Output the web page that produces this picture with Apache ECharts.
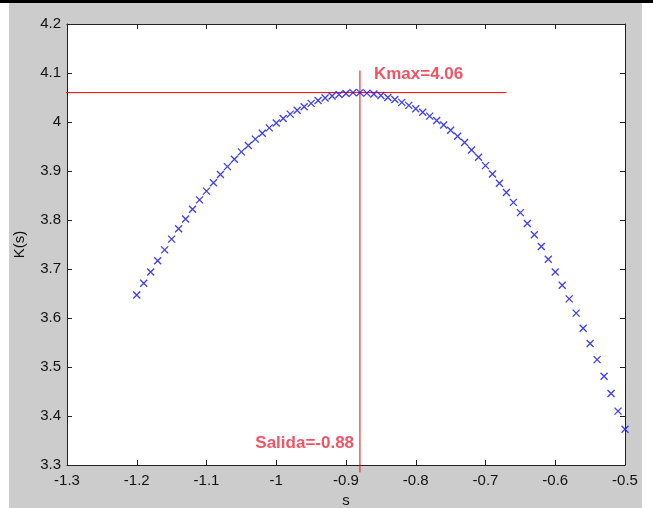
<!DOCTYPE html>
<html>
<head>
<meta charset="utf-8">
<script src="https://cdn.jsdelivr.net/npm/echarts@6/dist/echarts.min.js"></script>
<style>
  html, body { margin: 0; padding: 0; background: #fff; }
  #chart { width: 653px; height: 508px; }
</style>
</head>
<body>
<div id="chart"></div>
<script>
// s values (step 0.01) and K(s)
const sValues = [
  -1.20, -1.19, -1.18, -1.17, -1.16, -1.15, -1.14, -1.13, -1.12, -1.11,
  -1.10, -1.09, -1.08, -1.07, -1.06, -1.05, -1.04, -1.03, -1.02, -1.01,
  -1.00, -0.99, -0.98, -0.97, -0.96, -0.95, -0.94, -0.93, -0.92, -0.91,
  -0.90, -0.89, -0.88, -0.87, -0.86, -0.85, -0.84, -0.83, -0.82, -0.81,
  -0.80, -0.79, -0.78, -0.77, -0.76, -0.75, -0.74, -0.73, -0.72, -0.71,
  -0.70, -0.69, -0.68, -0.67, -0.66, -0.65, -0.64, -0.63, -0.62, -0.61,
  -0.60, -0.59, -0.58, -0.57, -0.56, -0.55, -0.54, -0.53, -0.52, -0.51,
  -0.50
]
const kValues = [
  3.647, 3.671, 3.694, 3.717, 3.739, 3.761, 3.782, 3.802, 3.822, 3.841,
  3.859, 3.876, 3.893, 3.909, 3.924, 3.939, 3.952, 3.965, 3.977, 3.988,
  3.998, 4.007, 4.016, 4.024, 4.031, 4.038, 4.044, 4.049, 4.053, 4.056,
  4.058, 4.060, 4.060, 4.059, 4.057, 4.054, 4.050, 4.046, 4.040, 4.034,
  4.027, 4.020, 4.012, 4.003, 3.994, 3.983, 3.971, 3.958, 3.943, 3.928,
  3.911, 3.894, 3.875, 3.856, 3.836, 3.815, 3.793, 3.770, 3.746, 3.720,
  3.694, 3.667, 3.639, 3.610, 3.579, 3.548, 3.515, 3.481, 3.446, 3.410,
  3.373
]
const kmax = 4.06
const salida = -0.88
// extents of the two red guide lines
const hLineS = [-1.31, -0.67]
const vLineK = [3.285, 4.105]
// text anchors (left edge, middle)
const kmaxTextAt = [-0.86, 4.098]
const salidaTextAt = [-1.03, 3.344]

const xTicks = { min: -1.3, max: -0.5, interval: 0.1 }
const yTicks = { min: 3.3, max: 4.2, interval: 0.1 }

const chart = echarts.init(document.getElementById('chart'))

const axisFont = { fontFamily: 'Liberation Sans', fontSize: 15, color: '#111' }
const boxLine = { show: true, onZero: false, lineStyle: { color: '#222', width: 1 } }
const inTick = { show: true, inside: true, length: 5, lineStyle: { color: '#222' } }
const fmt = v => String(Math.round(v * 10) / 10)

const points = sValues.map((s, i) => [s, kValues[i]])

chart.setOption({
  backgroundColor: '#fff',
  animation: false,
  graphic: [
    { type: 'rect', z: -10, shape: { x: 9, y: 3, width: 633, height: 505 }, style: { fill: '#cccccc' } },
    { type: 'rect', z: -10, shape: { x: 0, y: 0, width: 653, height: 3 }, style: { fill: '#000' } },
    { type: 'rect', z: -9, shape: { x: 67, y: 24, width: 558, height: 441 }, style: { fill: '#fff' } }
  ],
  grid: { left: 67, top: 24, width: 558, height: 441, outerBoundsMode: 'none', containLabel: false },
  xAxis: [{
    type: 'value', position: 'bottom',
    min: xTicks.min, max: xTicks.max, interval: xTicks.interval,
    name: 's', nameLocation: 'middle', nameGap: 28,
    nameTextStyle: axisFont,
    axisLine: boxLine, axisTick: inTick, splitLine: { show: false },
    axisLabel: Object.assign({ margin: 8, formatter: fmt }, axisFont)
  }, {
    type: 'value', position: 'top',
    min: xTicks.min, max: xTicks.max, interval: xTicks.interval,
    axisLine: boxLine, axisTick: inTick, splitLine: { show: false },
    axisLabel: { show: false }
  }],
  yAxis: [{
    type: 'value', position: 'left',
    min: yTicks.min, max: yTicks.max, interval: yTicks.interval,
    name: 'K(s)', nameLocation: 'middle', nameGap: 40, nameRotate: 90,
    nameTextStyle: axisFont,
    axisLine: boxLine, axisTick: inTick, splitLine: { show: false },
    axisLabel: Object.assign({ margin: 6, formatter: fmt }, axisFont)
  }, {
    type: 'value', position: 'right',
    min: yTicks.min, max: yTicks.max, interval: yTicks.interval,
    axisLine: boxLine, axisTick: inTick, splitLine: { show: false },
    axisLabel: { show: false }
  }],
  series: [
    {
      type: 'line',
      clip: false,
      symbol: 'none',
      lineStyle: { color: '#ff0000', width: 1 },
      data: [[hLineS[0], kmax], [hLineS[1], kmax]],
      z: 3
    },
    {
      type: 'line',
      clip: false,
      symbol: 'none',
      lineStyle: { color: '#ff0000', width: 1 },
      data: [[salida, vLineK[0]], [salida, vLineK[1]]],
      z: 3
    },
    {
      type: 'scatter',
      symbol: 'path://M0,0L10,10M10,0L0,10',
      symbolSize: 7,
      itemStyle: { color: 'rgba(0,0,0,0)', borderColor: '#1a1aff', borderWidth: 1.3, opacity: 0.85 },
      data: points,
      z: 4
    },
    {
      type: 'scatter',
      symbolSize: 0,
      silent: true,
      label: {
        show: true, position: 'right', distance: 0,
        fontFamily: 'Liberation Sans', fontSize: 17, fontWeight: 'bold', color: '#f0283c',
        formatter: p => p.data.text
      },
      data: [
        { value: kmaxTextAt, text: 'Kmax=' + kmax.toFixed(2) },
        { value: salidaTextAt, text: 'Salida=' + salida.toFixed(2) }
      ],
      z: 5
    }
  ]
})
</script>
</body>
</html>
